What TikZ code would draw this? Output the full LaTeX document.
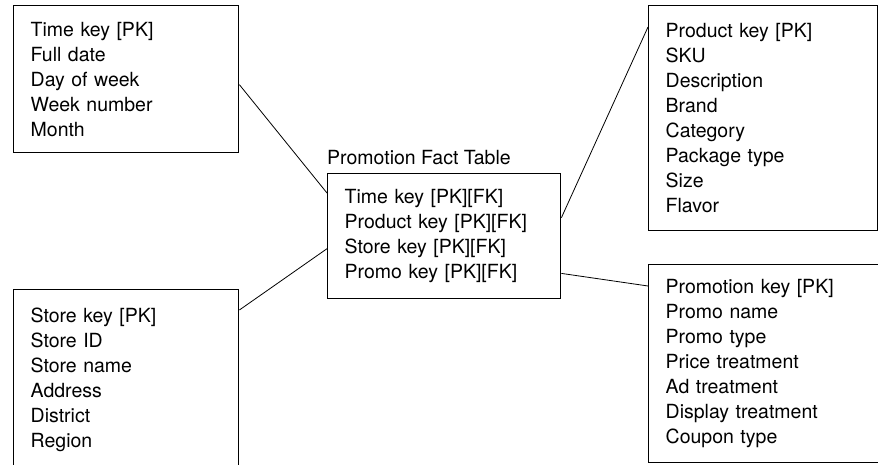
\documentclass[tikz,border=0pt]{standalone}
\usepackage{fontspec}
\setmainfont{TeX Gyre Heros}
\usepackage{xcolor}
\usepackage{tikz}
\usetikzlibrary{positioning,calc}

\begin{document}
\begin{tikzpicture}[
    x=1pt, y=1pt,
    entity/.style={rectangle, draw, line width=1.4pt, anchor=north west, align=left, inner xsep=17pt, inner ysep=0pt, font=\fontsize{19.5}{25}\selectfont},
    link/.style={line width=0.8pt}
]
    \clip (0,0) rectangle (878,464);
    \fill[white] (0,0) rectangle (878,464);

    % dimension tables
    \node[entity, text width=191pt, minimum height=147pt] (time) at (13,459)
        {Time key [PK]\\Full date\\Day of week\\Week number\\Month};
    \node[entity, text width=191pt, minimum height=180pt] (store) at (13,175)
        {Store key [PK]\\Store ID\\Store name\\Address\\District\\Region};
    \node[entity, text width=195pt, minimum height=225pt] (product) at (648,459)
        {Product key [PK]\\SKU\\Description\\Brand\\Category\\Package type\\Size\\Flavor};
    \node[entity, text width=198pt, minimum height=198pt] (promo) at (648,200)
        {Promotion key [PK]\\Promo name\\Promo type\\Price treatment\\Ad treatment\\Display treatment\\Coupon type};

    % fact table
    \node[entity, text width=199pt, minimum height=125pt] (fact) at (327,291)
        {Time key [PK][FK]\\Product key [PK][FK]\\Store key [PK][FK]\\Promo key [PK][FK]};
    \node[anchor=base west, inner sep=0pt, font=\fontsize{19.5}{25}\selectfont] (facttitle)
        at ([yshift=8pt]fact.north west) {Promotion Fact Table};

    \draw[link] ([yshift=-5.5pt]time.east) -- ([yshift=-20pt]fact.north west);
    \draw[link] ([yshift=-21pt]store.north east) -- ([yshift=-12.5pt]fact.west);
    \draw[link] ([yshift=18.5pt]fact.east) -- ([yshift=-22pt]product.north west);
    \draw[link] ([yshift=26pt]fact.south east) -- ([yshift=-22pt]promo.north west);
\end{tikzpicture}
\end{document}
